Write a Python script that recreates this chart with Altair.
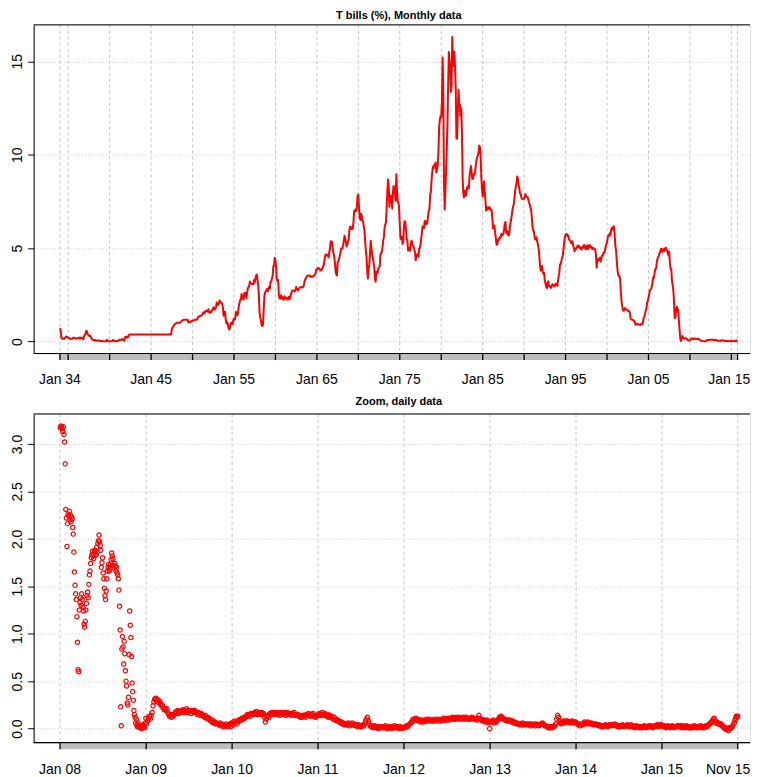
import altair as alt
import pandas as pd

# ---------------- Monthly 3-month T-bill rate (%), Jan 1934 .. Oct 2015 ----------------
tb_1934_1939 = [
    0.72, 0.62, 0.24, 0.15, 0.16, 0.15, 0.15, 0.19, 0.21, 0.27, 0.25, 0.23,
    0.20, 0.19, 0.15, 0.15, 0.15, 0.15, 0.15, 0.19, 0.20, 0.19, 0.17, 0.15,
    0.16, 0.17, 0.17, 0.19, 0.18, 0.22, 0.16, 0.19, 0.21, 0.17, 0.13, 0.30,
    0.35, 0.42, 0.56, 0.55, 0.42, 0.36, 0.31, 0.29, 0.31, 0.23, 0.14, 0.10,
    0.10, 0.08, 0.07, 0.08, 0.04, 0.04, 0.05, 0.05, 0.07, 0.04, 0.03, 0.03,
    0.03, 0.02, 0.02, 0.01, 0.01, 0.01, 0.02, 0.01, 0.10, 0.03, 0.02, 0.02,
]
tb_1940s = [
    0.01, 0.02, 0.01, 0.01, 0.03, 0.09, 0.03, 0.03, 0.03, 0.02, 0.01, 0.02,
    0.06, 0.04, 0.09, 0.09, 0.08, 0.10, 0.13, 0.11, 0.07, 0.04, 0.20, 0.25,
    0.23, 0.26, 0.21, 0.26, 0.36, 0.37, 0.37, 0.37, 0.37, 0.37, 0.37, 0.37,
    0.38, 0.38, 0.38, 0.38, 0.38, 0.38, 0.38, 0.38, 0.38, 0.38, 0.38, 0.38,
    0.38, 0.38, 0.38, 0.38, 0.38, 0.38, 0.38, 0.38, 0.38, 0.38, 0.38, 0.38,
    0.38, 0.38, 0.38, 0.38, 0.38, 0.38, 0.38, 0.38, 0.38, 0.38, 0.38, 0.38,
    0.38, 0.38, 0.38, 0.38, 0.38, 0.38, 0.38, 0.38, 0.38, 0.38, 0.38, 0.38,
    0.38, 0.38, 0.38, 0.38, 0.38, 0.38, 0.66, 0.74, 0.80, 0.86, 0.92, 0.95,
    0.97, 1.00, 1.00, 1.00, 1.00, 1.00, 1.00, 1.05, 1.09, 1.12, 1.14, 1.16,
    1.17, 1.17, 1.17, 1.17, 1.17, 1.17, 1.02, 1.04, 1.07, 1.05, 1.08, 1.10,
]
tb_1950s = [
    1.10, 1.13, 1.14, 1.16, 1.16, 1.16, 1.16, 1.21, 1.31, 1.33, 1.36, 1.37,
    1.38, 1.39, 1.42, 1.52, 1.57, 1.50, 1.59, 1.64, 1.65, 1.61, 1.61, 1.73,
    1.57, 1.54, 1.59, 1.57, 1.67, 1.70, 1.81, 1.83, 1.71, 1.74, 1.85, 2.09,
    1.96, 1.97, 2.01, 2.19, 2.16, 2.11, 2.04, 2.04, 1.79, 1.38, 1.44, 1.60,
    1.18, 0.97, 1.03, 0.96, 0.76, 0.64, 0.72, 0.92, 1.01, 0.98, 0.93, 1.14,
    1.23, 1.17, 1.28, 1.59, 1.45, 1.41, 1.60, 1.90, 2.07, 2.23, 2.24, 2.54,
    2.41, 2.32, 2.25, 2.60, 2.61, 2.49, 2.31, 2.60, 2.84, 2.90, 2.99, 3.21,
    3.11, 3.10, 3.08, 3.06, 3.06, 3.29, 3.16, 3.37, 3.53, 3.58, 3.29, 3.04,
    2.44, 1.53, 1.30, 1.13, 0.91, 0.83, 0.91, 1.69, 2.44, 2.63, 2.67, 2.77,
    2.82, 2.70, 2.80, 2.95, 2.84, 3.21, 3.20, 3.38, 3.53, 4.04, 4.05, 4.49,
]
tb_1960s = [
    4.35, 3.96, 3.31, 3.23, 3.29, 2.46, 2.30, 2.30, 2.48, 2.30, 2.37, 2.25,
    2.24, 2.42, 2.39, 2.29, 2.29, 2.33, 2.24, 2.39, 2.28, 2.30, 2.48, 2.60,
    2.72, 2.73, 2.72, 2.73, 2.68, 2.73, 2.92, 2.82, 2.78, 2.74, 2.83, 2.87,
    2.91, 2.92, 2.89, 2.90, 2.92, 2.99, 3.18, 3.32, 3.38, 3.45, 3.52, 3.52,
    3.52, 3.53, 3.54, 3.47, 3.48, 3.48, 3.46, 3.50, 3.53, 3.58, 3.62, 3.86,
    3.83, 3.93, 3.94, 3.93, 3.89, 3.80, 3.84, 3.84, 3.92, 4.03, 4.08, 4.36,
    4.60, 4.67, 4.63, 4.61, 4.64, 4.50, 4.80, 4.96, 5.37, 5.35, 5.32, 4.96,
    4.72, 4.56, 4.26, 3.84, 3.60, 3.54, 4.21, 4.27, 4.42, 4.56, 4.73, 4.97,
    5.00, 4.98, 5.17, 5.38, 5.66, 5.52, 5.31, 5.09, 5.19, 5.35, 5.45, 5.96,
    6.14, 6.12, 6.02, 6.11, 6.03, 6.43, 6.98, 6.97, 7.08, 6.99, 7.24, 7.82,
]
tb_1970s = [
    7.87, 7.13, 6.63, 6.51, 6.84, 6.68, 6.45, 6.41, 6.12, 5.91, 5.28, 4.87,
    4.44, 3.70, 3.38, 3.86, 4.14, 4.75, 5.40, 4.94, 4.69, 4.46, 4.22, 4.01,
    3.38, 3.20, 3.73, 3.71, 3.69, 3.91, 3.98, 4.02, 4.66, 4.74, 4.78, 5.07,
    5.41, 5.60, 6.09, 6.26, 6.36, 7.19, 8.01, 8.67, 8.29, 7.22, 7.83, 7.45,
    7.77, 7.12, 7.96, 8.33, 8.23, 7.90, 7.55, 8.96, 8.06, 7.46, 7.47, 7.15,
    6.26, 5.50, 5.49, 5.61, 5.23, 5.34, 6.13, 6.44, 6.42, 5.96, 5.48, 5.44,
    4.87, 4.88, 5.00, 4.86, 5.20, 5.41, 5.23, 5.14, 5.08, 4.92, 4.75, 4.35,
    4.62, 4.67, 4.60, 4.54, 4.96, 5.02, 5.19, 5.49, 5.81, 6.16, 6.10, 6.07,
    6.44, 6.45, 6.29, 6.29, 6.41, 6.73, 7.01, 7.08, 7.85, 7.99, 8.64, 9.08,
    9.35, 9.27, 9.46, 9.49, 9.58, 9.05, 9.26, 9.45, 10.18, 11.47, 11.87, 12.07,
]
tb_1980s = [
    12.00, 12.86, 15.20, 13.20, 8.58, 7.07, 8.06, 9.13, 10.27, 11.62, 13.73, 15.49,
    15.02, 14.79, 13.36, 13.69, 16.30, 14.73, 14.95, 15.51, 14.70, 13.54, 10.86, 10.85,
    12.28, 13.48, 12.68, 12.70, 12.09, 12.47, 11.35, 8.68, 7.92, 7.71, 8.07, 7.94,
    7.81, 8.13, 8.30, 8.25, 8.19, 8.82, 9.12, 9.39, 9.05, 8.71, 8.71, 8.96,
    8.93, 9.03, 9.44, 9.69, 9.90, 9.94, 10.13, 10.49, 10.41, 9.97, 8.79, 8.16,
    7.76, 8.22, 8.57, 8.00, 7.56, 7.01, 7.05, 7.18, 7.08, 7.17, 7.20, 7.07,
    7.04, 7.03, 6.59, 6.06, 6.12, 6.21, 5.84, 5.57, 5.19, 5.18, 5.35, 5.49,
    5.45, 5.59, 5.56, 5.76, 5.75, 5.69, 5.78, 6.00, 6.32, 6.40, 5.81, 5.80,
    5.90, 5.69, 5.69, 5.92, 6.27, 6.50, 6.73, 7.02, 7.23, 7.34, 7.68, 8.09,
    8.29, 8.48, 8.83, 8.70, 8.40, 8.22, 7.92, 7.91, 7.72, 7.63, 7.65, 7.64,
]
tb_1990s = [
    7.64, 7.74, 7.90, 7.77, 7.74, 7.73, 7.62, 7.45, 7.36, 7.17, 7.06, 6.74,
    6.22, 5.94, 5.91, 5.65, 5.46, 5.57, 5.58, 5.33, 5.22, 4.99, 4.56, 4.07,
    3.80, 3.84, 4.04, 3.75, 3.63, 3.66, 3.21, 3.13, 2.91, 2.86, 3.13, 3.22,
    3.00, 2.93, 2.95, 2.87, 2.96, 3.07, 3.04, 3.02, 2.95, 3.02, 3.10, 3.06,
    2.98, 3.25, 3.50, 3.68, 4.14, 4.14, 4.33, 4.48, 4.62, 4.95, 5.29, 5.60,
    5.71, 5.77, 5.73, 5.65, 5.67, 5.47, 5.42, 5.40, 5.28, 5.28, 5.36, 5.14,
    5.00, 4.83, 4.96, 4.95, 5.02, 5.09, 5.15, 5.05, 5.09, 4.99, 5.03, 4.91,
    5.03, 5.01, 5.14, 5.16, 5.05, 4.93, 5.05, 5.14, 4.95, 4.97, 5.14, 5.16,
    5.04, 5.09, 5.03, 4.95, 5.00, 4.98, 4.96, 4.90, 4.61, 3.96, 4.41, 4.39,
    4.34, 4.45, 4.48, 4.28, 4.51, 4.59, 4.60, 4.76, 4.73, 4.88, 5.07, 5.20,
]
tb_2000s = [
    5.32, 5.55, 5.69, 5.66, 5.79, 5.69, 5.96, 6.09, 6.00, 6.11, 6.17, 5.77,
    5.15, 4.88, 4.42, 3.87, 3.62, 3.49, 3.51, 3.36, 2.64, 2.16, 1.87, 1.69,
    1.65, 1.73, 1.79, 1.72, 1.73, 1.70, 1.68, 1.62, 1.63, 1.58, 1.23, 1.19,
    1.17, 1.17, 1.13, 1.13, 1.07, 0.92, 0.90, 0.95, 0.94, 0.92, 0.93, 0.90,
    0.88, 0.93, 0.94, 0.94, 1.02, 1.27, 1.33, 1.48, 1.65, 1.76, 2.07, 2.19,
    2.33, 2.54, 2.74, 2.78, 2.84, 2.97, 3.22, 3.44, 3.42, 3.71, 3.88, 3.89,
    4.24, 4.43, 4.51, 4.60, 4.72, 4.79, 4.95, 4.96, 4.81, 4.92, 4.94, 4.85,
    4.98, 5.03, 4.94, 4.87, 4.73, 4.61, 4.82, 4.20, 3.89, 3.90, 3.27, 3.00,
    2.75, 2.12, 1.26, 1.29, 1.73, 1.86, 1.63, 1.72, 1.13, 0.67, 0.19, 0.03,
    0.13, 0.30, 0.22, 0.16, 0.18, 0.18, 0.18, 0.17, 0.12, 0.07, 0.05, 0.05,
]
tb_2010_2015 = [
    0.06, 0.11, 0.15, 0.16, 0.16, 0.12, 0.16, 0.16, 0.15, 0.13, 0.14, 0.14,
    0.15, 0.13, 0.10, 0.06, 0.04, 0.04, 0.04, 0.02, 0.01, 0.02, 0.01, 0.01,
    0.03, 0.09, 0.08, 0.08, 0.09, 0.09, 0.10, 0.10, 0.11, 0.10, 0.09, 0.07,
    0.07, 0.10, 0.09, 0.06, 0.04, 0.05, 0.04, 0.04, 0.02, 0.05, 0.07, 0.07,
    0.04, 0.05, 0.05, 0.03, 0.03, 0.04, 0.03, 0.03, 0.02, 0.02, 0.02, 0.03,
    0.03, 0.02, 0.03, 0.02, 0.02, 0.02, 0.03, 0.07, 0.02, 0.02,
]

# ---------------- Daily zoom (values per month) ----------------
d2008 = [
    [3.17, 3.19, 3.18, 3.16, 3.13, 3.18, 3.10, 3.02, 2.79, 2.31, 2.22, 1.92],
    [2.16, 2.26, 2.24, 2.29, 2.20, 2.25, 2.18, 2.23, 2.21, 2.12, 2.05, 1.86],
    [1.65, 1.51, 1.42, 1.36, 1.18, 0.91, 0.62, 0.60, 1.25, 1.33, 1.38, 1.30],
    [1.42, 1.36, 1.28, 1.24, 1.10, 1.07, 1.13, 1.25, 1.32, 1.40, 1.44, 1.38],
    [1.52, 1.62, 1.66, 1.74, 1.80, 1.83, 1.87, 1.82, 1.79, 1.86, 1.88, 1.84],
    [1.83, 1.91, 1.86, 1.95, 1.98, 2.04, 1.97, 1.93, 1.88, 1.70, 1.75, 1.80],
    [1.64, 1.58, 1.48, 1.40, 1.36, 1.45, 1.58, 1.66, 1.70, 1.73, 1.66, 1.68],
    [1.72, 1.78, 1.85, 1.82, 1.79, 1.72, 1.69, 1.74, 1.71, 1.66, 1.70, 1.64],
    [1.62, 1.58, 1.46, 1.29, 1.04, 0.23, 0.03, 0.84, 0.97, 0.86, 0.68, 0.92],
    [0.79, 0.61, 0.50, 0.45, 0.27, 0.25, 0.33, 0.78, 1.24, 1.09, 0.96, 0.76],
    [0.48, 0.39, 0.30, 0.19, 0.15, 0.12, 0.06, 0.10, 0.04, 0.02, 0.06, 0.03],
    [0.02, 0.01, 0.03, 0.02, 0.00, 0.01, 0.04, 0.02, 0.03, 0.01, 0.06, 0.11],
]
d2009 = [
    [0.05, 0.08, 0.11, 0.13, 0.10, 0.14, 0.17, 0.24], [0.28, 0.31, 0.32, 0.29, 0.31, 0.30, 0.27, 0.29],
    [0.26, 0.24, 0.25, 0.22, 0.20, 0.21, 0.19, 0.21], [0.17, 0.15, 0.13, 0.14, 0.12, 0.15, 0.13, 0.14],
    [0.16, 0.18, 0.17, 0.19, 0.16, 0.18, 0.17, 0.19], [0.18, 0.20, 0.17, 0.19, 0.18, 0.21, 0.17, 0.19],
    [0.18, 0.19, 0.16, 0.19, 0.18, 0.17, 0.19, 0.18], [0.17, 0.15, 0.17, 0.16, 0.14, 0.16, 0.15, 0.14],
    [0.13, 0.12, 0.14, 0.11, 0.12, 0.10, 0.11, 0.09], [0.08, 0.07, 0.09, 0.06, 0.07, 0.05, 0.06, 0.05],
    [0.05, 0.04, 0.06, 0.03, 0.05, 0.04, 0.02, 0.04], [0.03, 0.05, 0.02, 0.04, 0.03, 0.05, 0.02, 0.06],
]
d2010 = [
    [0.06, 0.04, 0.08, 0.06, 0.07, 0.05, 0.08, 0.09], [0.08, 0.10, 0.09, 0.11, 0.10, 0.12, 0.11, 0.12],
    [0.13, 0.15, 0.14, 0.15, 0.13, 0.16, 0.15, 0.16], [0.15, 0.17, 0.16, 0.18, 0.15, 0.16, 0.17, 0.15],
    [0.16, 0.17, 0.15, 0.16, 0.12, 0.07, 0.10, 0.13], [0.14, 0.12, 0.16, 0.15, 0.17, 0.15, 0.16, 0.17],
    [0.16, 0.15, 0.17, 0.15, 0.16, 0.14, 0.17, 0.16], [0.16, 0.15, 0.17, 0.16, 0.14, 0.17, 0.15, 0.16],
    [0.15, 0.16, 0.14, 0.16, 0.15, 0.17, 0.14, 0.15], [0.14, 0.15, 0.13, 0.14, 0.12, 0.13, 0.12, 0.14],
    [0.13, 0.14, 0.12, 0.15, 0.14, 0.16, 0.14, 0.13], [0.15, 0.14, 0.16, 0.13, 0.14, 0.12, 0.13, 0.14],
]
d2011 = [
    [0.15, 0.16, 0.14, 0.15, 0.17, 0.14, 0.15, 0.16], [0.14, 0.13, 0.15, 0.12, 0.13, 0.14, 0.12, 0.13],
    [0.11, 0.10, 0.12, 0.09, 0.10, 0.08, 0.09, 0.08], [0.07, 0.06, 0.07, 0.05, 0.06, 0.04, 0.05, 0.04],
    [0.05, 0.04, 0.06, 0.03, 0.05, 0.04, 0.06, 0.04], [0.04, 0.05, 0.03, 0.04, 0.02, 0.04, 0.03, 0.02],
    [0.02, 0.03, 0.04, 0.03, 0.05, 0.08, 0.10, 0.12], [0.08, 0.05, 0.03, 0.02, 0.03, 0.01, 0.02, 0.03],
    [0.02, 0.01, 0.02, 0.00, 0.01, 0.02, 0.01, 0.02], [0.01, 0.02, 0.01, 0.03, 0.01, 0.00, 0.02, 0.01],
    [0.02, 0.01, 0.00, 0.02, 0.01, 0.03, 0.01, 0.02], [0.01, 0.02, 0.00, 0.01, 0.02, 0.00, 0.01, 0.01],
]
d2012 = [
    [0.01, 0.02, 0.03, 0.02, 0.03, 0.04, 0.05, 0.06], [0.07, 0.09, 0.10, 0.08, 0.10, 0.11, 0.09, 0.10],
    [0.08, 0.09, 0.07, 0.09, 0.08, 0.07, 0.09, 0.08], [0.08, 0.10, 0.08, 0.09, 0.10, 0.08, 0.09, 0.08],
    [0.09, 0.08, 0.10, 0.09, 0.08, 0.10, 0.09, 0.08], [0.10, 0.09, 0.08, 0.10, 0.11, 0.09, 0.10, 0.09],
    [0.10, 0.11, 0.09, 0.10, 0.11, 0.10, 0.12, 0.10], [0.11, 0.10, 0.12, 0.10, 0.11, 0.12, 0.10, 0.11],
    [0.11, 0.10, 0.12, 0.11, 0.10, 0.12, 0.11, 0.10], [0.10, 0.11, 0.10, 0.12, 0.11, 0.10, 0.11, 0.10],
    [0.10, 0.09, 0.11, 0.14, 0.11, 0.09, 0.10, 0.09], [0.08, 0.09, 0.07, 0.08, 0.09, 0.07, 0.06, 0.00],
]
d2013 = [
    [0.07, 0.08, 0.07, 0.09, 0.06, 0.08, 0.07, 0.08], [0.09, 0.10, 0.12, 0.11, 0.13, 0.12, 0.11, 0.10],
    [0.09, 0.10, 0.09, 0.08, 0.09, 0.08, 0.09, 0.08], [0.07, 0.08, 0.06, 0.07, 0.06, 0.05, 0.06, 0.05],
    [0.05, 0.04, 0.05, 0.04, 0.06, 0.04, 0.05, 0.04], [0.05, 0.04, 0.05, 0.04, 0.05, 0.03, 0.05, 0.04],
    [0.04, 0.05, 0.03, 0.04, 0.05, 0.04, 0.03, 0.04], [0.04, 0.05, 0.06, 0.05, 0.04, 0.03, 0.03, 0.02],
    [0.02, 0.01, 0.02, 0.01, 0.02, 0.01, 0.02, 0.02], [0.03, 0.05, 0.10, 0.14, 0.12, 0.08, 0.06, 0.05],
    [0.06, 0.08, 0.07, 0.06, 0.08, 0.07, 0.08, 0.07], [0.07, 0.06, 0.07, 0.08, 0.07, 0.06, 0.07, 0.07],
]
d2014 = [
    [0.06, 0.05, 0.04, 0.05, 0.03, 0.04, 0.05, 0.04], [0.05, 0.07, 0.06, 0.05, 0.06, 0.07, 0.05, 0.06],
    [0.05, 0.06, 0.05, 0.04, 0.05, 0.04, 0.05, 0.04], [0.04, 0.03, 0.04, 0.03, 0.02, 0.03, 0.02, 0.03],
    [0.03, 0.04, 0.03, 0.02, 0.03, 0.04, 0.03, 0.04], [0.04, 0.03, 0.04, 0.05, 0.03, 0.04, 0.03, 0.02],
    [0.02, 0.03, 0.02, 0.03, 0.04, 0.03, 0.02, 0.03], [0.03, 0.04, 0.03, 0.02, 0.03, 0.04, 0.02, 0.03],
    [0.02, 0.01, 0.02, 0.03, 0.02, 0.01, 0.02, 0.02], [0.01, 0.02, 0.01, 0.02, 0.03, 0.02, 0.01, 0.02],
    [0.02, 0.03, 0.02, 0.03, 0.02, 0.01, 0.02, 0.03], [0.02, 0.03, 0.04, 0.03, 0.02, 0.04, 0.03, 0.04],
]
d2015 = [
    [0.03, 0.02, 0.03, 0.02, 0.01, 0.02, 0.03, 0.02], [0.02, 0.01, 0.02, 0.03, 0.02, 0.01, 0.02, 0.02],
    [0.02, 0.03, 0.02, 0.03, 0.02, 0.03, 0.01, 0.03], [0.02, 0.01, 0.02, 0.03, 0.02, 0.01, 0.02, 0.01],
    [0.01, 0.02, 0.01, 0.02, 0.03, 0.02, 0.01, 0.02], [0.02, 0.01, 0.02, 0.03, 0.02, 0.01, 0.02, 0.01],
    [0.02, 0.03, 0.02, 0.03, 0.04, 0.05, 0.06, 0.07], [0.08, 0.10, 0.11, 0.08, 0.06, 0.07, 0.05, 0.06],
    [0.05, 0.04, 0.05, 0.03, 0.02, 0.01, 0.00, 0.01], [-0.01, 0.00, -0.02, 0.01, 0.00, 0.01, 0.02, 0.04],
    [0.06, 0.09, 0.11, 0.13, 0.12, 0.13],
]
daily_last_day = "2015-11-19"

# ---------------- Axis ticks / labels ----------------
top_tick_years = [1934, 1935, 1940, 1945, 1950, 1955, 1960, 1965, 1970, 1975,
                  1980, 1985, 1990, 1995, 2000, 2005, 2010, 2015]
top_label_years = [1934, 1945, 1955, 1965, 1975, 1985, 1995, 2005, 2015]
bottom_tick_years = [2008, 2009, 2010, 2011, 2012, 2013, 2014, 2015]
top_y_ticks = [0, 5, 10, 15]
bottom_y_ticks = [0.0, 0.5, 1.0, 1.5, 2.0, 2.5, 3.0]

top_title = "T bills (%), Monthly data"
bottom_title = "Zoom, daily data"

# ---------------- Build tables ----------------
monthly_values = (tb_1934_1939 + tb_1940s + tb_1950s + tb_1960s + tb_1970s
                  + tb_1980s + tb_1990s + tb_2000s + tb_2010_2015)
monthly_dates = pd.date_range("1934-01-01", periods=len(monthly_values), freq="MS")
monthly_df = pd.DataFrame({"date": monthly_dates, "rate": monthly_values})

daily_years = {2008: d2008, 2009: d2009, 2010: d2010, 2011: d2011,
               2012: d2012, 2013: d2013, 2014: d2014, 2015: d2015}
last_day = pd.Timestamp(daily_last_day)
rows = []
for year, months in daily_years.items():
    for m, vals in enumerate(months, start=1):
        start = pd.Timestamp(year=year, month=m, day=1)
        n = len(vals)
        if year == last_day.year and m == last_day.month:
            ds = [start + (last_day - start) * (i + 1) / n for i in range(n)]
        else:
            stop = start + pd.offsets.MonthBegin(1)
            ds = [start + (stop - start) * (i + 0.5) / n for i in range(n)]
        rows += [(d.floor("min"), v) for d, v in zip(ds, vals)]
daily_df = pd.DataFrame(rows, columns=["date", "rate"])

top_ticks = [pd.Timestamp(y, 1, 1) for y in top_tick_years] + [monthly_dates[-1]]
bottom_ticks = [pd.Timestamp(y, 1, 1) for y in bottom_tick_years] + [daily_df["date"].iloc[-1]]
top_labels = [pd.Timestamp(y, 1, 1) for y in top_label_years]
bottom_labels = list(bottom_ticks)

RED = "#ff0000"
FONT = "Liberation Sans"
W = 718          # plot width (page x 33 .. 751)
H = 329.4        # plot height of each panel

top_domain = [alt.DateTime(year=1930, month=10, date=31), alt.DateTime(year=2017, month=4, date=1)]
bottom_domain = [alt.DateTime(year=2007, month=9, date=11), alt.DateTime(year=2016, month=1, date=10)]


def y_axis(values, fmt):
    return alt.Axis(values=values, format=fmt, title=None, labelAngle=270,
                    labelAlign="center", labelBaseline="alphabetic", labelPadding=6,
                    ticks=True, tickSize=6, tickColor="black", tickWidth=1,
                    domain=True, domainColor="black", domainWidth=1,
                    grid=True, gridColor="#cccccc", gridDash=[1, 2], gridWidth=1,
                    labelFont=FONT, labelFontSize=14, labelColor="black",
                    labelOverlap=False, labelFlush=False)


def panel(df, domain, ydomain, yvals, yfmt, ticks, labels, title, title_dy, last_dx, kind):
    xs = alt.Scale(domain=domain)
    X = lambda f: alt.X(f, scale=xs, axis=None)
    tick_df = pd.DataFrame({"date": ticks})
    grid = alt.Chart(tick_df).mark_rule(color="#c2c2c2", strokeDash=[3, 3], strokeWidth=1).encode(
        x=X("date:T"), y=alt.value(0), y2=alt.value(H),
    )
    ys = alt.Scale(domain=ydomain, nice=False, zero=False)
    if kind == "line":
        main = alt.Chart(df).mark_line(color=RED, strokeWidth=2, strokeJoin="round").encode(
            x=X("date:T"), y=alt.Y("rate:Q", scale=ys, axis=y_axis(yvals, yfmt)),
        )
    else:
        main = alt.Chart(df).mark_point(shape="circle", filled=False, color=RED, size=19,
                                        strokeWidth=1.2, opacity=1).encode(
            x=X("date:T"), y=alt.Y("rate:Q", scale=ys, axis=y_axis(yvals, yfmt)),
        )
    band_df = pd.DataFrame({"start": [df["date"].iloc[0]], "end": [df["date"].iloc[-1]]})
    band = alt.Chart(band_df).mark_rect(color="#bdbdbd").encode(
        x=X("start:T"), x2="end:T", y=alt.value(H + 0.6), y2=alt.value(H + 6.6),
    )
    tick_rules = alt.Chart(tick_df).mark_rule(color="black", strokeWidth=1.3).encode(
        x=X("date:T"), y=alt.value(H), y2=alt.value(H + 6.6),
    )
    one = pd.DataFrame({"k": [0]})
    top_line = alt.Chart(one).mark_rule(color="black", strokeWidth=1).encode(
        x=alt.value(0), x2=alt.value(W), y=alt.value(0),
    )
    bottom_line = alt.Chart(one).mark_rule(color="black", strokeWidth=1.2).encode(
        x=alt.value(0), x2=alt.value(W), y=alt.value(H),
    )
    lab_df = pd.DataFrame({"date": labels, "label": [d.strftime("%b %y") for d in labels]})
    text_kw = dict(font=FONT, fontSize=14, color="black", baseline="top")
    lab = alt.Chart(lab_df.iloc[:-1]).mark_text(align="center", **text_kw).encode(
        x=X("date:T"), y=alt.value(H + 20), text="label:N",
    )
    lab_last = alt.Chart(lab_df.iloc[-1:]).mark_text(align="right", dx=last_dx, **text_kw).encode(
        x=X("date:T"), y=alt.value(H + 20), text="label:N",
    )
    ttl = alt.Chart(one).mark_text(font=FONT, fontSize=11, fontWeight="bold", color="black",
                                   align="center", baseline="middle").encode(
        x=alt.value(366), y=alt.value(title_dy), text=alt.value(title),
    )
    return alt.layer(grid, main, band, tick_rules, top_line, bottom_line, lab, lab_last, ttl
                     ).properties(width=W, height=H)


top = panel(monthly_df, top_domain, [-0.64, 16.95], top_y_ticks, "d",
            top_ticks, top_labels, top_title, -9.3, 18.9, "line")
bottom = panel(daily_df, bottom_domain, [-0.147, 3.316], bottom_y_ticks, ".1f",
               bottom_ticks, bottom_labels, bottom_title, -12.3, 12.5, "point")

chart = alt.vconcat(top, bottom, spacing=7).properties(
    padding={"left": 1.7, "top": 0, "right": 0, "bottom": 0},
).configure_view(stroke=None).configure(background="white")

chart.save("out.html", embed_options={"renderer": "svg", "actions": False})
